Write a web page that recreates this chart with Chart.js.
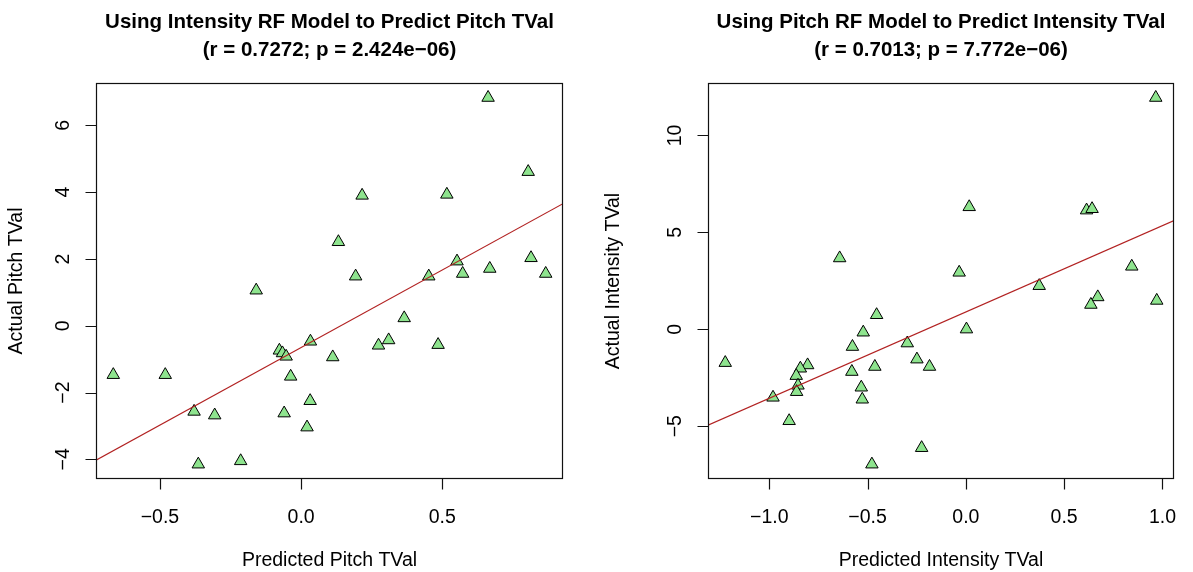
<!DOCTYPE html>
<html><head><meta charset="utf-8">
<script src="https://cdn.jsdelivr.net/npm/chart.js@4"></script>
<style>
html,body{margin:0;padding:0;background:#fff;width:1193px;height:572px;overflow:hidden}
canvas{position:absolute;top:0}
#c1{left:0}
#c2{left:597px}
</style></head>
<body>
<canvas id="c1" width="597" height="572"></canvas>
<canvas id="c2" width="596" height="572"></canvas>
<script>
// ---- Panel 1: Intensity RF model predicting Pitch TVal ----
const pitchPredicted = [0.662,0.804,0.216,0.516,0.132,0.552,0.814,0.668,0.572,0.866,0.452,0.193,-0.159,0.365,0.033,0.310,0.274,0.485,-0.077,-0.066,-0.053,0.112,-0.665,-0.481,-0.037,0.032,-0.379,-0.306,-0.060,0.021,-0.214,-0.364];
const pitchActual    = [6.83,4.61,3.90,3.93,2.51,1.93,2.03,1.71,1.56,1.56,1.48,1.48,1.06,0.23,-0.47,-0.43,-0.59,-0.57,-0.74,-0.82,-0.92,-0.94,-1.47,-1.47,-1.52,-2.25,-2.57,-2.68,-2.62,-3.04,-4.05,-4.15];
const pitchFit = {intercept: -0.652, slope: 4.646};
const pitchXTicks = [-0.5, 0, 0.5];
const pitchXTickLabels = ['\u22120.5','0.0','0.5'];
const pitchYTicks = [-4,-2,0,2,4,6];
const pitchYTickLabels = ['\u22124','\u22122','0','2','4','6'];
const pitchTitle = ['Using Intensity RF Model to Predict Pitch TVal','(r = 0.7272; p = 2.424e\u221206)'];
const pitchXLabel = 'Predicted Pitch TVal';
const pitchYLabel = 'Actual Pitch TVal';

// ---- Panel 2: Pitch RF model predicting Intensity TVal ----
const intPredicted = [0.966,0.017,0.614,0.642,-0.642,-0.034,0.844,0.373,0.671,0.636,0.971,-0.454,0.003,-0.522,-0.298,-0.577,-0.249,-1.224,-0.805,-0.463,-0.185,-0.842,-0.580,-0.863,-0.854,-0.532,-0.861,-0.981,-0.527,-0.899,-0.225,-0.478];
const intActual    = [11.95,6.31,6.14,6.21,3.67,2.93,3.24,2.24,1.66,1.27,1.48,0.74,0.00,-0.16,-0.72,-0.90,-1.55,-1.73,-1.85,-1.93,-1.93,-2.02,-2.19,-2.40,-2.90,-3.00,-3.23,-3.52,-3.62,-4.73,-6.12,-6.97];
const intFit = {intercept: 0.892, slope: 4.453};
const intXTicks = [-1, -0.5, 0, 0.5, 1];
const intXTickLabels = ['\u22121.0','\u22120.5','0.0','0.5','1.0'];
const intYTicks = [-5,0,5,10];
const intYTickLabels = ['\u22125','0','5','10'];
const intTitle = ['Using Pitch RF Model to Predict Intensity TVal','(r = 0.7013; p = 7.772e\u221206)'];
const intXLabel = 'Predicted Intensity TVal';
const intYLabel = 'Actual Intensity TVal';

const FONT = '"Liberation Sans", Arial, Helvetica, sans-serif';
const INK = '#111';
const TICK_LEN = 11;

// R-style axis range: data range extended by 4% on each side
function rRange(arr){
  const lo = Math.min(...arr), hi = Math.max(...arr), d = (hi - lo) * 0.04;
  return [lo - d, hi + d];
}

// Box around the plot region plus outward R-style tick marks
const boxPlugin = {
  id: 'rbox',
  afterDraw(chart){
    const {ctx, chartArea: a, scales} = chart;
    const L = Math.round(a.left) + 0.5, T = Math.round(a.top) + 0.5;
    const R = Math.round(a.right) - 0.5, B = Math.round(a.bottom) - 0.5;
    ctx.save();
    ctx.strokeStyle = INK;
    ctx.lineWidth = 1.2;
    ctx.strokeRect(L, T, R - L, B - T);
    ctx.beginPath();
    scales.x.ticks.forEach(t => {
      const px = Math.round(scales.x.getPixelForValue(t.value)) + 0.5;
      ctx.moveTo(px, B); ctx.lineTo(px, B + TICK_LEN);
    });
    scales.y.ticks.forEach(t => {
      const py = Math.round(scales.y.getPixelForValue(t.value)) + 0.5;
      ctx.moveTo(L, py); ctx.lineTo(L - TICK_LEN, py);
    });
    ctx.stroke();
    ctx.restore();
  }
};

function makePanel(id, cfg){
  const [xmin, xmax] = rRange(cfg.x);
  const [ymin, ymax] = rRange(cfg.y);
  const pts = cfg.x.map((v, i) => ({x: v, y: cfg.y[i]}));
  const line = [xmin, xmax].map(v => ({x: v, y: cfg.fit.intercept + cfg.fit.slope * v}));
  return new Chart(document.getElementById(id), {
    type: 'scatter',
    data: {
      datasets: [
        {type: 'line', data: line, borderColor: '#b22222', borderWidth: 1.2,
         pointRadius: 0, fill: false, order: 0},
        {data: pts, pointStyle: 'triangle', pointRadius: 7.2, pointBorderWidth: 1,
         pointBorderColor: '#000', pointBackgroundColor: '#8ee48e', order: 1}
      ]
    },
    options: {
      responsive: false, animation: false, events: [],
      layout: {padding: {left: 0, right: cfg.padRight, top: 0, bottom: 0}},
      plugins: {
        legend: {display: false}, tooltip: {enabled: false},
        title: {display: true, text: cfg.title, fullSize: false, color: '#000',
          font: {family: FONT, size: 20.5, weight: 'bold', lineHeight: '28px'},
          padding: {top: 8, bottom: 19}}
      },
      scales: {
        x: {
          type: 'linear', min: xmin, max: xmax,
          afterBuildTicks: s => { s.ticks = cfg.xTicks.map(v => ({value: v})); },
          afterFit: s => { s.height = 93; },
          ticks: {color: '#000', font: {family: FONT, size: 19.5}, padding: 16,
                  maxRotation: 0, minRotation: 0,
                  callback: v => { const i = cfg.xTicks.indexOf(v); return i >= 0 ? cfg.xTickLabels[i] : ''; }},
          grid: {display: true, drawOnChartArea: false, drawTicks: true, tickLength: TICK_LEN,
                 color: 'rgba(0,0,0,0)', tickColor: 'rgba(0,0,0,0)'},
          border: {display: false},
          title: {display: true, text: cfg.xLabel, color: '#000',
                  font: {family: FONT, size: 19.5, lineHeight: 1}, padding: {top: 0, bottom: 2}}
        },
        y: {
          type: 'linear', min: ymin, max: ymax,
          afterBuildTicks: s => { s.ticks = cfg.yTicks.map(v => ({value: v})); },
          afterFit: s => { s.width = cfg.yWidth; },
          ticks: {color: '#000', font: {family: FONT, size: 19.5}, padding: 10,
                  minRotation: 90, maxRotation: 90, crossAlign: 'center',
                  callback: v => { const i = cfg.yTicks.indexOf(v); return i >= 0 ? cfg.yTickLabels[i] : ''; }},
          grid: {display: true, drawOnChartArea: false, drawTicks: true, tickLength: TICK_LEN,
                 color: 'rgba(0,0,0,0)', tickColor: 'rgba(0,0,0,0)'},
          border: {display: false},
          title: {display: true, text: cfg.yLabel, color: '#000',
                  font: {family: FONT, size: 19.5, lineHeight: 1}, padding: {top: 7, bottom: 0}}
        }
      }
    },
    plugins: [boxPlugin]
  });
}

makePanel('c1', {x: pitchPredicted, y: pitchActual, fit: pitchFit,
  xTicks: pitchXTicks, xTickLabels: pitchXTickLabels, yTicks: pitchYTicks, yTickLabels: pitchYTickLabels,
  title: pitchTitle, xLabel: pitchXLabel, yLabel: pitchYLabel, yWidth: 96, padRight: 34});
makePanel('c2', {x: intPredicted, y: intActual, fit: intFit,
  xTicks: intXTicks, xTickLabels: intXTickLabels, yTicks: intYTicks, yTickLabels: intYTickLabels,
  title: intTitle, xLabel: intXLabel, yLabel: intYLabel, yWidth: 111, padRight: 19});
</script>
</body></html>
